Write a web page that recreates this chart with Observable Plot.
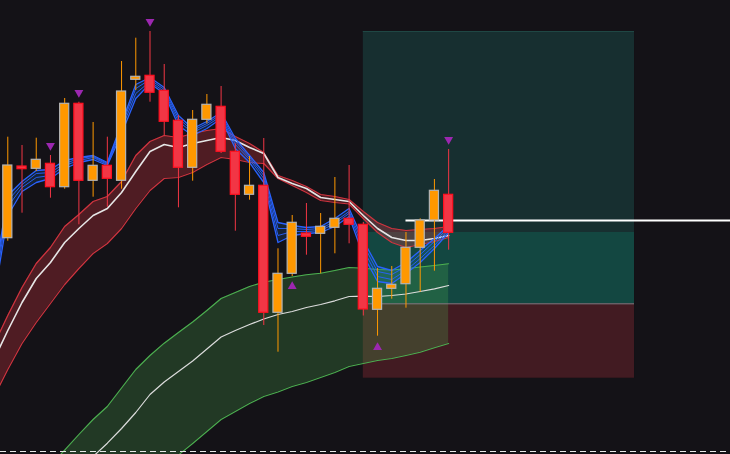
<!DOCTYPE html>
<html><head><meta charset="utf-8">
<script src="https://cdn.jsdelivr.net/npm/d3@7"></script>
<script src="https://cdn.jsdelivr.net/npm/@observablehq/plot@0.6"></script>
<style>html,body{margin:0;padding:0;background:#141217;overflow:hidden}</style>
</head><body><div id="chart"></div>
<script>
// Candles (bar index 0..31), price in chart units
const opens  = [262.3, 334, 331.7, 336.7, 313.3, 396.7, 319.7, 334.7, 319.7, 420.7, 424.7, 409.7, 379.7, 332.7, 380.7, 393.7, 348.7, 305.7, 314.7, 187.7, 226.7, 267, 266.7, 272.7, 281.7, 275.7, 190.7, 211.7, 216.3, 252.7, 280, 305.7];
const highs  = [363.3, 355, 362.3, 345, 402, 398.3, 378, 363.3, 439, 462.3, 469, 436, 385, 390, 406, 414, 356.7, 344, 362, 251.7, 285, 297, 287, 323, 335, 278, 232, 234, 268, 281.7, 321, 351];
const lows   = [259.3, 287.3, 329, 302.3, 311.3, 275.7, 303.3, 293.3, 311.3, 410, 398.3, 364.7, 292.7, 319.3, 376.7, 347, 269.3, 300.3, 175, 148.3, 224, 245.3, 226.7, 246.7, 256.7, 184.5, 164.3, 201.3, 192.3, 208.3, 229.3, 250.3];
const closes = [335, 331.3, 340.7, 313.3, 396.7, 319.7, 334.7, 321.7, 409, 423.7, 407.7, 378.7, 332.7, 380.7, 395.7, 348.7, 305.7, 314.7, 187.7, 226.7, 277.7, 263.7, 273.7, 281.7, 275.7, 191, 211.7, 215.7, 252.7, 280, 309.7, 267.7];

// Signals
const sellIdx = [3, 5, 10, 31];
const sellY   = [355, 408, 479, 361];
const buyIdx  = [20, 26];
const buyY    = [214, 153];

// Red envelope + blue ribbon, bar index -1..31
const bandIdx  = d3.range(-1, 32);
const redUpper = [155, 185, 213, 237, 253, 274, 286, 299, 304, 319, 345, 359, 365, 363, 367, 370, 372, 364, 357, 348, 325, 320, 314, 306, 304, 301, 289, 278, 272, 270, 271, 272, 274];
const redMid   = [140, 170, 198, 222, 238, 258, 272, 285, 292, 308, 329, 349, 356, 353, 357, 360, 363, 360, 353, 347, 323, 317, 312, 303, 301, 299, 285, 272, 263, 260, 260, 262, 265];
const redLower = [103, 131, 157, 178, 197, 216, 232, 247, 257, 272, 292, 310, 322, 323, 328, 336, 343, 341, 338, 337, 322, 315, 308, 300, 298, 296.5, 282, 268, 258, 253, 256, 259, 263];
const blue1 = [218, 305, 319, 330, 331, 340, 343, 345, 338, 377, 416, 423, 413, 385, 372, 379, 388, 362, 345, 328, 278, 275, 273, 274, 282, 292, 260, 234, 230, 238, 250, 262, 275];
const blue2 = [212, 300, 316, 327, 328, 337, 342, 344, 337, 374, 412, 421, 411, 382, 370, 377, 386, 359, 343, 325, 272, 272, 271, 272, 279, 289, 256, 229, 226, 234, 246, 259, 273];
const blue3 = [206, 294, 313, 323, 325, 335, 340, 343, 336, 371, 407, 419, 409, 379, 368, 375, 384, 356, 341, 322, 265, 269, 269, 270, 277, 287, 251, 224, 221, 230, 242, 255, 271];
const blue4 = [200, 285, 309, 318, 322, 332, 338, 341, 335, 367, 402, 417, 407, 375, 365, 372, 382, 352, 338, 318, 258, 265, 267, 268, 274, 284, 245, 219, 217, 227, 238, 252, 268];

// Green envelope, bar index 3..31
const greenIdx   = d3.range(3, 32);
const greenUpper = [35, 50.4, 66, 81, 94, 112.5, 131, 145, 157.3, 168, 178.5, 190, 202, 208, 214, 218.3, 221, 223.5, 225.7, 227.3, 230, 233, 232.3, 231, 230.5, 231.7, 233.5, 235, 236.7];
const greenMid   = [2, 16, 30, 44, 57.3, 72, 88, 106, 118.5, 129, 139.5, 151.5, 163.5, 170, 176, 181.5, 186, 189, 193, 196, 199.7, 204, 204.3, 204, 205, 206.5, 209, 211.7, 215];
const greenLower = [-62, -50, -38, -26, -14, -2, 10, 22, 34, 45.5, 57, 69, 81, 89, 97, 104, 108.5, 114, 118, 123, 128, 134, 137, 140, 142, 145, 148.3, 152.7, 157];

// Position tool
const posStart = 25, posEnd = 44.07;
const targetTop = 469, targetMid = 268, entryPrice = 196.7, stopPrice = 122.3;
const posLineY = 280, posLineStart = 28, posLineEnd = 51;
const dashY = 49;

const candles = opens.map((o, i) => ({i, o, h: highs[i], l: lows[i], c: closes[i], up: closes[i] >= o}));
const ups = candles.filter(d => d.up), downs = candles.filter(d => !d.up);
const band = bandIdx.map((i, k) => ({i, u: redUpper[k], m: redMid[k], l: redLower[k], b1: blue1[k], b2: blue2[k], b3: blue3[k], b4: blue4[k]}));
const green = greenIdx.map((i, k) => ({i, u: greenUpper[k], m: greenMid[k], l: greenLower[k]}));
const sells = sellIdx.map((i, k) => ({i, y: sellY[k]}));
const buys = buyIdx.map((i, k) => ({i, y: buyY[k]}));
const W = 0.32;

const chart = Plot.plot({
  width: 730, height: 454, margin: 0,
  style: {background: "#141217", overflow: "hidden"},
  x: {type: "linear", domain: [-0.513, 50.82], axis: null},
  y: {type: "linear", domain: [46, 500], axis: null},
  marks: [
    Plot.rect([{y1: targetMid, y2: targetTop}], {x1: posStart, x2: posEnd, y1: "y1", y2: "y2", fill: "#172f30"}),
    Plot.rect([{y1: entryPrice, y2: targetMid}], {x1: posStart, x2: posEnd, y1: "y1", y2: "y2", fill: "#134741"}),
    Plot.rect([{y1: stopPrice, y2: entryPrice}], {x1: posStart, x2: posEnd, y1: "y1", y2: "y2", fill: "#421b22"}),
    Plot.ruleY([targetTop], {x1: posStart, x2: posEnd, stroke: "#1f4744", strokeWidth: 1}),
    Plot.areaY(band, {x: "i", y1: "l", y2: "u", fill: "#f23645", fillOpacity: 0.27, clip: true}),
    Plot.areaY(green, {x: "i", y1: "l", y2: "u", fill: "#4caf50", fillOpacity: 0.25, clip: true}),
    Plot.ruleY([entryPrice], {x1: posStart, x2: posEnd, stroke: "#7d7f86", strokeWidth: 1}),
    Plot.line(band, {x: "i", y: "u", stroke: "#d0343f", strokeWidth: 1.2, clip: true}),
    Plot.line(band, {x: "i", y: "l", stroke: "#d0343f", strokeWidth: 1.2, clip: true}),
    Plot.line(band, {x: "i", y: "m", stroke: "#e6e6e6", strokeWidth: 1.6, clip: true}),
    Plot.line(green, {x: "i", y: "u", stroke: "#4caf50", strokeWidth: 1.1, clip: true}),
    Plot.line(green, {x: "i", y: "l", stroke: "#4caf50", strokeWidth: 1.1, clip: true}),
    Plot.line(green, {x: "i", y: "m", stroke: "#dcdcdc", strokeWidth: 1.2, clip: true}),
    Plot.areaY(band, {x: "i", y1: "b4", y2: "b1", fill: "#1e88e5", fillOpacity: 0.15, clip: true}),
    Plot.line(band, {x: "i", y: "b4", stroke: "#2962ff", strokeWidth: 1.3, clip: true}),
    Plot.line(band, {x: "i", y: "b3", stroke: "#2962ff", strokeWidth: 0.9, clip: true}),
    Plot.line(band, {x: "i", y: "b2", stroke: "#2962ff", strokeWidth: 0.9, clip: true}),
    Plot.line(band, {x: "i", y: "b1", stroke: "#2962ff", strokeWidth: 1.3, clip: true}),
    Plot.ruleY([posLineY], {x1: posLineStart, x2: posLineEnd, stroke: "#ffffff", strokeWidth: 2}),
    Plot.ruleX(ups, {x: "i", y1: "l", y2: "h", stroke: "#ff9800", strokeWidth: 1}),
    Plot.ruleX(downs, {x: "i", y1: "l", y2: "h", stroke: "#f23645", strokeWidth: 1}),
    Plot.rect(ups, {x1: d => d.i - W, x2: d => d.i + W, y1: "o", y2: "c", fill: "#ff9800", stroke: "#b4b4b4", strokeWidth: 1.2}),
    Plot.rect(downs, {x1: d => d.i - W, x2: d => d.i + W, y1: "o", y2: "c", fill: "#f23645", stroke: "#ff1020", strokeWidth: 1.2}),
    Plot.dot(sells, {x: "i", y: "y", symbol: "triangle", r: 3.3, fill: "#9c27b0", stroke: "none", rotate: 180}),
    Plot.dot(buys, {x: "i", y: "y", symbol: "triangle", r: 3.3, fill: "#9c27b0", stroke: "none"}),
    Plot.ruleY([dashY], {stroke: "#e8e8e8", strokeWidth: 1, strokeDasharray: "6,4"})
  ]
});
document.getElementById("chart").appendChild(chart);
</script>
</body></html>
